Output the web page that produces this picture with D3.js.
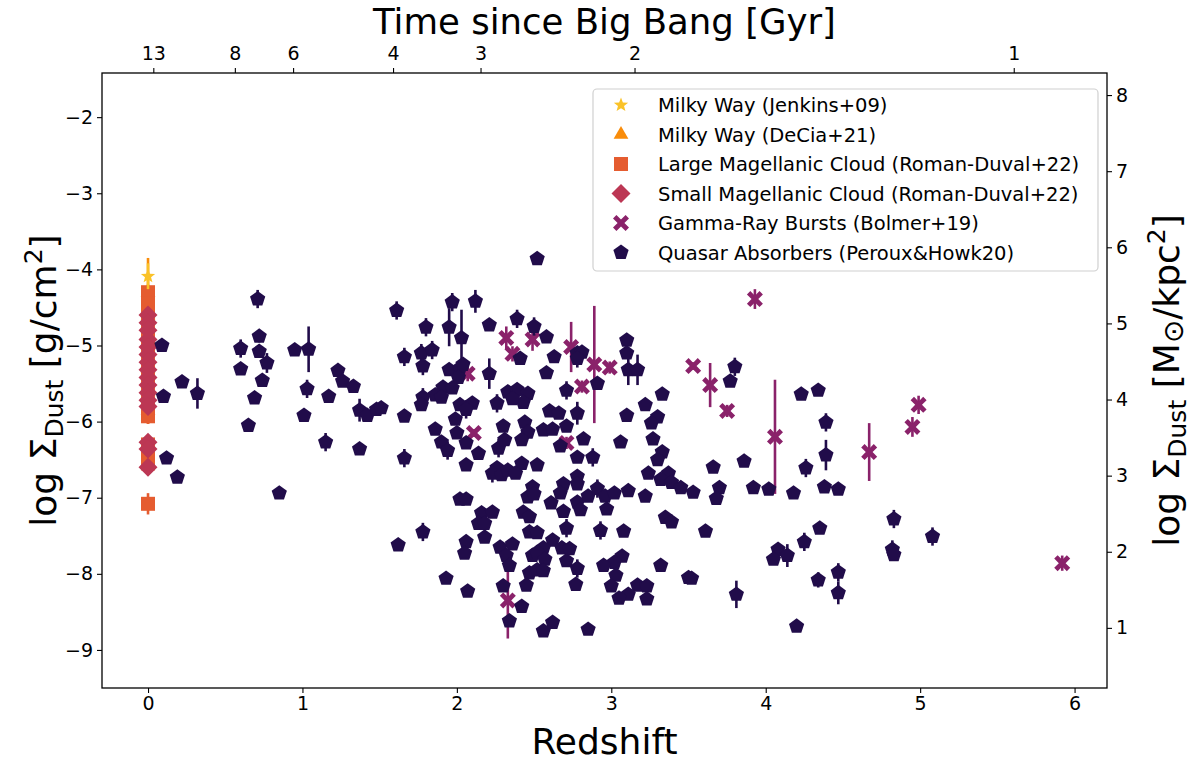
<!DOCTYPE html>
<html>
<head>
<meta charset="utf-8">
<script src="https://cdn.jsdelivr.net/npm/d3@7"></script>
<style>
  body { margin: 0; background: #fff; }
  svg { font-family: 'DejaVu Sans', sans-serif; }
</style>
</head>
<body>
<svg id="chart" width="1194" height="763"></svg>
<script>
'use strict';

// rows are [redshift, log Sigma_dust (g/cm^2), error]
const mwJenkins = [[0, -4.09, 0.17]];
const mwDeCia = [[0, -4.3, 0.45], [0, -4.6, 0.15], [0, -4.95, 0.15], [0, -5.3, 0.15], [0, -5.6, 0.15], [0, -5.85, 0.18]];
const lmc = [[0, -4.3, 0.1], [0, -4.45, 0.1], [0, -4.6, 0.1], [0, -4.75, 0.1], [0, -4.9, 0.1], [0, -5.05, 0.1],
  [0, -5.2, 0.1], [0, -5.35, 0.1], [0, -5.5, 0.1], [0, -5.65, 0.1], [0, -5.8, 0.1], [0, -5.93, 0.1],
  [0, -6.3, 0.1], [0, -6.45, 0.1], [0, -6.55, 0.1], [0, -7.08, 0.14]];
const smc = [[0, -4.6, 0.05], [0, -4.7, 0.05], [0, -4.8, 0.05], [0, -4.92, 0.05], [0, -5.02, 0.05], [0, -5.12, 0.05],
  [0, -5.22, 0.05], [0, -5.32, 0.05], [0, -5.42, 0.05], [0, -5.52, 0.05], [0, -5.62, 0.05], [0, -5.72, 0.05],
  [0, -5.8, 0.05], [0, -6.27, 0.05], [0, -6.36, 0.05], [0, -6.6, 0.05]];
const grb = [[2.32, -4.90, 0.15], [2.36, -5.11, 0.1], [2.49, -4.92, 0.15], [2.07, -5.37, 0.1], [2.11, -6.15, 0.05],
  [2.33, -8.35, 0.5], [2.74, -5.02, 0.33], [2.89, -5.25, 0.77], [2.99, -5.29, 0.08], [2.81, -5.54, 0.08],
  [2.71, -6.28, 0.08], [3.53, -5.27, 0.05], [3.93, -4.39, 0.13], [3.64, -5.52, 0.29], [3.75, -5.86, 0.08],
  [4.06, -6.20, 0.75], [4.67, -6.40, 0.38], [4.99, -5.78, 0.12], [4.95, -6.07, 0.13], [5.92, -7.86, 0.1]];
const qso = [
  [0.09, -5.00, 0.05], [0.10, -5.67, 0.05], [0.22, -5.48, 0.05], [0.32, -5.63, 0.2], [0.12, -6.48, 0.05],
  [0.19, -6.73, 0.05], [0.85, -6.94, 0.05], [0.71, -4.39, 0.12], [0.72, -4.88, 0.08], [0.60, -5.04, 0.12],
  [0.72, -5.08, 0.08], [0.77, -5.23, 0.13], [0.60, -5.31, 0.05], [0.74, -5.46, 0.05], [0.69, -5.69, 0.05],
  [0.65, -6.05, 0.05], [0.95, -5.06, 0.05], [1.04, -5.05, 0.3], [1.03, -5.57, 0.12], [1.17, -5.67, 0.05],
  [1.01, -5.92, 0.08], [1.15, -6.27, 0.12], [1.23, -5.33, 0.05], [1.26, -5.47, 0.05], [1.33, -5.54, 0.05],
  [1.37, -5.85, 0.15], [1.42, -5.92, 0.05], [1.48, -5.84, 0.05], [1.37, -6.36, 0.05],
  [2.52, -3.86, 0.05], [1.61, -4.54, 0.12], [1.97, -4.43, 0.12], [2.12, -4.42, 0.15], [1.80, -4.76, 0.12],
  [1.95, -4.76, 0.25], [2.03, -4.90, 0.37], [2.21, -4.73, 0.05], [2.39, -4.65, 0.12], [2.50, -4.75, 0.12],
  [1.66, -5.15, 0.12], [1.77, -5.10, 0.12], [1.84, -5.06, 0.12], [1.78, -5.27, 0.12], [1.95, -5.32, 0.05],
  [2.02, -5.30, 0.05], [2.04, -5.25, 0.05], [2.01, -5.42, 0.05], [2.21, -5.37, 0.2], [2.41, -5.17, 0.05],
  [1.91, -5.55, 0.05], [1.97, -5.56, 0.05], [1.86, -5.65, 0.05], [1.90, -5.68, 0.05], [1.78, -5.68, 0.12],
  [1.77, -5.78, 0.05], [2.02, -5.78, 0.05], [2.10, -5.76, 0.05], [2.06, -5.84, 0.12], [2.26, -5.76, 0.12],
  [2.33, -5.61, 0.05], [2.39, -5.58, 0.05], [2.46, -5.63, 0.05], [2.43, -5.75, 0.05], [2.36, -5.70, 0.05],
  [1.51, -5.82, 0.05], [1.66, -5.93, 0.05], [1.99, -5.97, 0.05], [1.86, -6.10, 0.05], [2.00, -6.15, 0.05],
  [2.30, -6.06, 0.05], [2.44, -6.01, 0.05], [2.46, -6.14, 0.05], [1.90, -6.27, 0.05], [1.94, -6.38, 0.12],
  [2.06, -6.28, 0.05], [2.14, -6.42, 0.05], [2.27, -6.35, 0.12], [2.31, -6.24, 0.05], [2.42, -6.24, 0.05],
  [1.66, -6.48, 0.12], [2.06, -6.57, 0.05], [2.26, -6.61, 0.05], [2.42, -6.55, 0.05], [2.52, -6.57, 0.05],
  [2.23, -6.68, 0.12], [2.29, -6.70, 0.05], [2.33, -6.64, 0.05], [2.38, -6.68, 0.05],
  [2.02, -7.02, 0.05], [2.06, -7.02, 0.05], [2.16, -7.20, 0.05], [2.23, -7.19, 0.05], [2.14, -7.34, 0.05],
  [2.18, -7.34, 0.05], [2.18, -7.52, 0.05], [2.43, -7.19, 0.05], [2.47, -7.25, 0.05], [2.46, -6.99, 0.05],
  [2.49, -6.86, 0.05], [2.47, -7.45, 0.05], [2.52, -7.46, 0.05], [1.78, -7.45, 0.12], [1.62, -7.62, 0.05],
  [2.06, -7.58, 0.05], [2.05, -7.73, 0.05], [2.28, -7.65, 0.05], [2.36, -7.61, 0.05], [2.32, -7.76, 0.05],
  [2.34, -7.89, 0.05], [2.49, -7.76, 0.05], [2.47, -7.99, 0.05], [2.52, -7.95, 0.05], [1.93, -8.06, 0.05],
  [2.07, -8.23, 0.05], [2.30, -8.16, 0.05], [2.45, -8.15, 0.05], [2.42, -8.43, 0.05], [2.34, -8.62, 0.05],
  [2.56, -8.75, 0.05], [2.62, -8.64, 0.05], [2.85, -8.73, 0.05],
  [2.58, -4.89, 0.05], [2.78, -5.10, 0.05], [2.81, -5.09, 0.05], [2.78, -5.17, 0.12], [2.63, -5.15, 0.05],
  [2.58, -5.36, 0.05], [2.91, -5.50, 0.05], [2.71, -5.59, 0.12], [3.10, -4.93, 0.05], [3.10, -5.10, 0.05],
  [3.11, -5.32, 0.2], [3.17, -5.32, 0.2], [3.33, -5.64, 0.05], [3.22, -5.78, 0.05], [3.30, -5.94, 0.05],
  [3.26, -6.02, 0.05], [3.10, -5.92, 0.05], [2.60, -5.86, 0.05], [2.66, -5.89, 0.05], [2.78, -5.89, 0.15],
  [2.71, -6.06, 0.05], [2.56, -6.11, 0.05], [2.62, -6.10, 0.05], [2.67, -6.32, 0.05], [2.82, -6.23, 0.05],
  [2.78, -6.47, 0.05], [2.88, -6.47, 0.12], [3.06, -6.27, 0.05], [3.27, -6.23, 0.05], [3.33, -6.40, 0.05],
  [3.30, -6.50, 0.05],
  [3.24, -6.68, 0.05], [3.37, -6.68, 0.05], [3.32, -6.76, 0.05], [3.39, -6.80, 0.05], [3.45, -6.87, 0.05],
  [3.53, -6.93, 0.05], [2.50, -6.95, 0.05], [2.69, -6.82, 0.05], [2.67, -6.94, 0.05], [2.61, -7.07, 0.05],
  [2.78, -6.72, 0.05], [2.78, -6.82, 0.05], [2.78, -7.06, 0.05], [2.80, -7.16, 0.05], [2.85, -6.98, 0.05],
  [2.91, -6.88, 0.12], [2.96, -6.98, 0.05], [3.02, -6.94, 0.05], [3.11, -6.91, 0.05], [3.22, -6.98, 0.05],
  [2.97, -7.15, 0.05], [2.69, -7.18, 0.05], [3.35, -7.26, 0.05], [3.39, -7.32, 0.05], [2.71, -7.40, 0.12],
  [2.93, -7.43, 0.12], [3.08, -7.44, 0.05], [2.62, -7.56, 0.05], [2.68, -7.66, 0.05], [2.73, -7.67, 0.05],
  [2.56, -7.66, 0.05], [2.52, -7.72, 0.05], [2.57, -7.81, 0.05], [2.71, -7.83, 0.05], [3.07, -7.77, 0.05],
  [3.02, -7.85, 0.05], [2.95, -7.89, 0.05], [2.78, -7.93, 0.12], [2.56, -7.96, 0.05], [3.03, -8.02, 0.05],
  [3.00, -8.16, 0.05], [2.77, -8.14, 0.05], [3.32, -7.89, 0.05], [3.50, -8.05, 0.05], [3.17, -8.15, 0.05],
  [3.23, -8.16, 0.05], [3.11, -8.27, 0.05], [3.05, -8.32, 0.05], [3.23, -8.33, 0.05],
  [3.80, -5.28, 0.12], [3.77, -5.47, 0.05], [4.23, -5.64, 0.05], [4.34, -5.59, 0.05], [4.39, -6.01, 0.12],
  [4.39, -6.44, 0.2], [3.66, -6.60, 0.05], [3.86, -6.52, 0.05], [4.26, -6.61, 0.12],
  [3.70, -6.87, 0.05], [3.68, -7.01, 0.05], [3.92, -6.87, 0.05], [4.02, -6.89, 0.05], [4.18, -6.94, 0.05],
  [4.38, -6.86, 0.05], [4.47, -6.89, 0.05], [3.61, -7.44, 0.05], [4.83, -7.28, 0.12], [4.35, -7.40, 0.05],
  [4.25, -7.58, 0.12], [4.08, -7.68, 0.05], [4.14, -7.76, 0.15], [4.05, -7.81, 0.05], [3.52, -8.06, 0.05],
  [3.81, -8.27, 0.18], [4.34, -8.08, 0.1], [4.47, -7.98, 0.12], [4.47, -8.25, 0.15], [4.20, -8.69, 0.05],
  [4.82, -7.68, 0.12], [4.83, -7.75, 0.05], [5.08, -7.51, 0.12]
];

const xTicks = [0, 1, 2, 3, 4, 5, 6];
const yTicks = [-2, -3, -4, -5, -6, -7, -8, -9];
const yRightTicks = [1, 2, 3, 4, 5, 6, 7, 8];
const ageTicks = [13, 8, 6, 4, 3, 2, 1];

// log(g/cm^2) -> log(Msun/kpc^2)
const dustOffset = 9.71;

const series = [
  { name: 'Milky Way (DeCia+21)', data: mwDeCia, shape: 'triangle', color: '#f98c0a' },
  { name: 'Large Magellanic Cloud (Roman-Duval+22)', data: lmc, shape: 'square', color: '#e55c30' },
  { name: 'Small Magellanic Cloud (Roman-Duval+22)', data: smc, shape: 'diamond', color: '#bc3754' },
  { name: 'Milky Way (Jenkins+09)', data: mwJenkins, shape: 'star', color: '#fac228' },
  { name: 'Gamma-Ray Bursts (Bolmer+19)', data: grb, shape: 'x', color: '#8a226a' },
  { name: 'Quasar Absorbers (Peroux&Howk20)', data: qso, shape: 'pentagon', color: '#210c4a' }
];
const legendOrder = [3, 0, 1, 2, 4, 5];

// age of universe at z, flat LCDM H0=70, Om=0.3
const H0 = 70, Om = 0.3, OL = 0.7;
const tH = 977.8 / H0;
const ageA = 2 * tH / (3 * Math.sqrt(OL));
const ageB = Math.sqrt(OL / Om);
function zAtAge(t) {
  return Math.pow(Math.sinh(t / ageA) / ageB, -2 / 3) - 1;
}

const svg = d3.select('#chart');
const pLeft = 102, pRight = 1107, pTop = 73, pBottom = 688;

const x = d3.scaleLinear().domain([-0.298, 6.21]).range([pLeft, pRight]);
const y = d3.scaleLinear().domain([-1.42, -9.5]).range([pTop, pBottom]);
const yR = d3.scaleLinear().domain([-1.42 + dustOffset, -9.5 + dustOffset]).range([pTop, pBottom]);

function shapePath(kind) {
  let pts;
  if (kind === 'pentagon') {
    const r = 8;
    pts = d3.range(5).map(function(k) {
      const a = -Math.PI / 2 + k * 2 * Math.PI / 5;
      return [r * Math.cos(a), r * Math.sin(a)];
    });
  } else if (kind === 'square') {
    const h = 7;
    pts = [[-h, -h], [h, -h], [h, h], [-h, h]];
  } else if (kind === 'diamond') {
    const h = 9.5;
    pts = [[0, -h], [h, 0], [0, h], [-h, 0]];
  } else if (kind === 'triangle') {
    const r = 8.5;
    pts = [[0, -r], [r * 0.866, r * 0.5], [-r * 0.866, r * 0.5]];
  } else if (kind === 'x') {
    const a = 8, w = 3.4;
    pts = [[-a + w, -a], [0, -w], [a - w, -a], [a, -a + w], [w, 0], [a, a - w],
      [a - w, a], [0, w], [-a + w, a], [-a, a - w], [-w, 0], [-a, -a + w]];
  } else if (kind === 'star') {
    const ro = 7.5, ri = 3.2;
    pts = d3.range(10).map(function(k) {
      const a = -Math.PI / 2 + k * Math.PI / 5;
      const r = k % 2 ? ri : ro;
      return [r * Math.cos(a), r * Math.sin(a)];
    });
  }
  return 'M' + pts.map(function(p) { return p[0].toFixed(2) + ',' + p[1].toFixed(2); }).join('L') + 'Z';
}

// marks
const plot = svg.append('g').attr('class', 'marks');
series.forEach(function(s) {
  const g = plot.append('g');
  g.selectAll('line')
    .data(s.data)
    .enter().append('line')
    .attr('x1', function(d) { return x(d[0]); })
    .attr('x2', function(d) { return x(d[0]); })
    .attr('y1', function(d) { return y(d[1] + d[2]); })
    .attr('y2', function(d) { return y(d[1] - d[2]); })
    .attr('stroke', s.color)
    .attr('stroke-width', 2.6);
  g.selectAll('path')
    .data(s.data)
    .enter().append('path')
    .attr('d', shapePath(s.shape))
    .attr('transform', function(d) { return 'translate(' + x(d[0]) + ',' + y(d[1]) + ')'; })
    .attr('fill', s.color);
});

// frame
svg.append('rect')
  .attr('x', pLeft).attr('y', pTop)
  .attr('width', pRight - pLeft).attr('height', pBottom - pTop)
  .attr('fill', 'none').attr('stroke', '#000').attr('stroke-width', 1.3);

function styleAxis(g) {
  g.select('.domain').remove();
  g.selectAll('.tick line').attr('stroke', '#000').attr('stroke-width', 1.1);
  g.selectAll('.tick text').attr('fill', '#000').attr('font-size', 19).attr('font-family', 'DejaVu Sans');
}

svg.append('g')
  .attr('transform', 'translate(0,' + pBottom + ')')
  .call(d3.axisBottom(x).tickValues(xTicks).tickSize(5).tickPadding(4).tickFormat(d3.format('d')))
  .call(styleAxis);

svg.append('g')
  .attr('transform', 'translate(' + pLeft + ',0)')
  .call(d3.axisLeft(y).tickValues(yTicks).tickSize(5).tickPadding(4).tickFormat(d3.format('d')))
  .call(styleAxis);

svg.append('g')
  .attr('transform', 'translate(' + pRight + ',0)')
  .call(d3.axisRight(yR).tickValues(yRightTicks).tickSize(5).tickPadding(4).tickFormat(d3.format('d')))
  .call(styleAxis);

const topAxis = d3.axisTop(x)
  .tickValues(ageTicks.map(zAtAge))
  .tickSize(5).tickPadding(8)
  .tickFormat(function(d, i) { return ageTicks[i]; });
svg.append('g')
  .attr('transform', 'translate(0,' + pTop + ')')
  .call(topAxis)
  .call(styleAxis);

// titles
svg.append('text')
  .attr('x', (pLeft + pRight) / 2).attr('y', 754)
  .attr('text-anchor', 'middle').attr('font-size', 36)
  .text('Redshift');

svg.append('text')
  .attr('x', (pLeft + pRight) / 2).attr('y', 34)
  .attr('text-anchor', 'middle').attr('font-size', 35.5)
  .text('Time since Big Bang [Gyr]');

const yl = svg.append('text')
  .attr('transform', 'translate(56,' + ((pTop + pBottom) / 2) + ') rotate(-90)')
  .attr('text-anchor', 'middle').attr('font-size', 36);
yl.append('tspan').text('log Σ');
yl.append('tspan').attr('font-size', 25).attr('dy', 7).text('Dust');
yl.append('tspan').attr('dy', -7).text(' [g/cm');
yl.append('tspan').attr('font-size', 25).attr('dy', -14).text('2');
yl.append('tspan').attr('dy', 14).text(']');

const yr = svg.append('text')
  .attr('transform', 'translate(1179,' + ((pTop + pBottom) / 2) + ') rotate(-90)')
  .attr('text-anchor', 'middle').attr('font-size', 36);
yr.append('tspan').text('log Σ');
yr.append('tspan').attr('font-size', 25).attr('dy', 7).text('Dust');
yr.append('tspan').attr('dy', -7).text(' [M');
yr.append('tspan').attr('font-size', 28).attr('dy', 4).text('⊙');
yr.append('tspan').attr('dy', -4).text('/kpc');
yr.append('tspan').attr('font-size', 25).attr('dy', -14).text('2');
yr.append('tspan').attr('dy', 14).text(']');

// legend
const leg = svg.append('g').attr('class', 'legend');
leg.append('rect')
  .attr('x', 593).attr('y', 89).attr('width', 505).attr('height', 182).attr('rx', 4)
  .attr('fill', '#fff').attr('fill-opacity', 0.8)
  .attr('stroke', '#d0d0d0').attr('stroke-width', 1.2);
legendOrder.forEach(function(idx, i) {
  const s = series[idx];
  const cy = 105 + i * 29.5;
  leg.append('path')
    .attr('d', shapePath(s.shape))
    .attr('transform', 'translate(621,' + cy + ')')
    .attr('fill', s.color);
  leg.append('text')
    .attr('x', 658).attr('y', cy + 7)
    .attr('font-size', 19.5)
    .text(s.name);
});
</script>
</body>
</html>
